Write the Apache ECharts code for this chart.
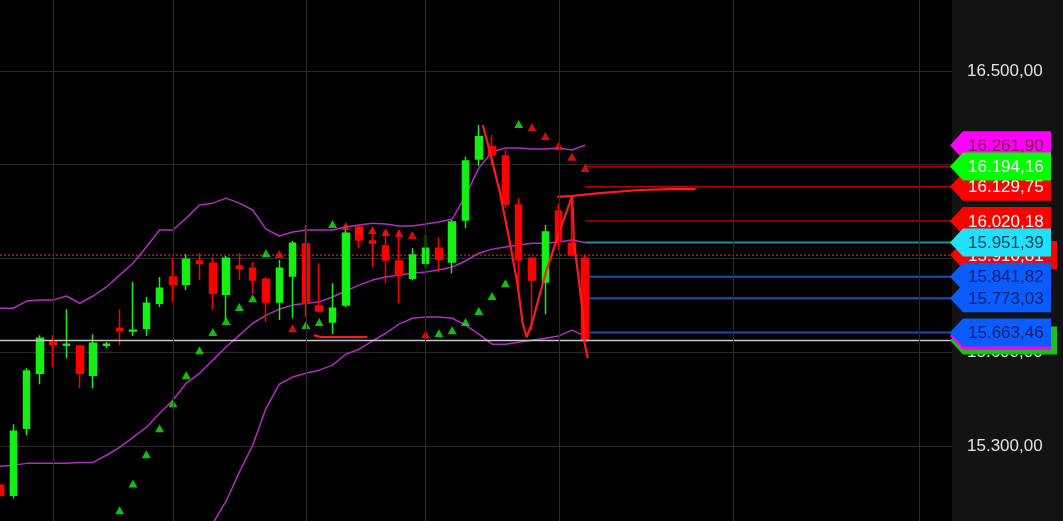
<!DOCTYPE html>
<html><head><meta charset="utf-8">
<script src="https://cdn.jsdelivr.net/npm/echarts@6/dist/echarts.min.js"></script>
<style>html,body{margin:0;padding:0;background:#131313;overflow:hidden}#c{width:1063px;height:521px}</style>
</head><body><div id="c"></div>
<script>
// ---- data ----
// candles: [open, close, low, high]
const candles = [
 [15175,15143,15133,15185],[15143,15348,15133,15370],[15357,15540,15335,15549],[15533,15645,15498,15655],
 [15633,15626,15553,15655],[15623,15626,15581,15738],[15620,15533,15485,15623],[15527,15629,15485,15658],
 [15623,15626,15613,15633],[15677,15671,15623,15738],[15668,15671,15652,15825],[15677,15757,15652,15777],
 [15757,15805,15745,15841],[15841,15818,15761,15901],[15818,15898,15799,15914],[15892,15885,15831,15917],
 [15885,15789,15735,15905],[15786,15901,15703,15908],[15876,15869,15831,15917],[15869,15831,15789,15889],
 [15834,15761,15697,15841],[15761,15869,15703,15895],[15844,15949,15709,15956],[15946,15757,15713,16007],
 [15748,15732,15729,15885],[15697,15741,15658,15821],[15751,15981,15745,16007],[16001,15959,15933,16007],
 [15956,15949,15873,15997],[15940,15895,15821,15991],[15892,15847,15757,15991],[15837,15911,15831,15933],
 [15885,15933,15869,15975],[15933,15898,15857,15969],[15889,16017,15853,16023],[16023,16212,15997,16225],
 [16218,16289,16196,16327],[16257,16231,16199,16295],[16228,16074,16061,16247],[16071,15895,15799,16093],
 [15901,15831,15671,15905],[15825,15985,15722,16007],[16052,15956,15927,16077],[15949,15911,15908,16097],
 [15901,15638,15638,15914]
];
const bbUpper = [15741,15741,15764,15767,15767,15780,15757,15780,15809,15847,15885,15937,15991,15991,16029,16071,
 16077,16093,16077,16055,15994,15972,15985,15991,15991,15991,16001,16007,16013,16010,16004,16004,16010,16017,16026,
 16100,16189,16241,16253,16253,16250,16250,16253,16247,16262];
const bbMiddle = [15236,15239,15245,15245,15245,15245,15248,15248,15271,15296,15328,15360,15405,15447,15501,15533,
 15575,15617,15655,15693,15718,15738,15751,15757,15761,15777,15796,15815,15831,15841,15847,15853,15857,15863,15873,
 15892,15917,15930,15937,15943,15949,15949,15953,15959,15951];
const bbLower = [14731,14737,14726,14723,14723,14710,14739,14716,14733,14745,14771,14783,14819,14903,14973,14995,
 15053,15124,15217,15303,15421,15498,15521,15533,15543,15559,15594,15610,15636,15661,15690,15709,15713,15713,15709,
 15687,15658,15626,15626,15632,15639,15645,15652,15671,15652];
// parabolic SAR dots: [candle index, value]
const psarGreen = [[9,15095],[10,15181],[11,15274],[12,15357],[13,15437],[14,15527],[15,15607],[16,15665],[17,15700],
 [18,15745],[19,15773],[20,15917],[23,15687],[24,15697],[25,16010],[33,15661],[34,15671],[35,15697],[36,15732],
 [37,15780],[38,15821],[39,16330]];
const psarRed = [[21,15914],[22,15677],[26,16004],[27,15991],[28,15991],[29,15985],[30,15981],[31,15975],[32,15658],
 [40,16320],[41,16292],[42,16260],[43,16225],[44,16189]];
// zigzag and swing lines: [position in candles, value]
const zigzag = [[36.3,16327],[36.8,16247],[37.6,16109],[38.2,15981],[38.9,15821],[39.3,15693],[39.6,15649],
 [40.0,15693],[40.4,15757],[41.1,15863],[42.1,15991],[43.0,16097],[43.08,16055],[43.15,15949],[43.4,15872],
 [43.8,15735],[43.95,15629],[44.2,15581]];
const swingHigh = [[41.9,16097],[43.1,16100],[45.1,16109],[48.1,16119],[50.4,16122],[52.3,16122]];
const swingLow = [[23.6,15655],[24.1,15649],[27.6,15649]];
// horizontal levels
const resistLevels = [16194.16, 16129.75, 16020.18];
const pivotLevels = [15951.39];
const supportLevels = [15841.82, 15773.03, 15663.46];
const prevClose = 15910.81;
const lastClose = candles[candles.length - 1][1];
// session separators (candle positions)
const sessionBreaks = [4, 13, 23, 32, 42.07, 55.1, 69.1];
// right-hand price tags (drawn in this order)
const tagValues = [16261.90, 16129.75, 16194.16, 16020.18, 15910.81, 15951.39, 15841.82, 15773.03, lastClose, 15652.00, 15663.46];
const tagKinds  = ['mag', 'red', 'green', 'red', 'redWide', 'cyan', 'blue', 'blue', 'greenWide', 'mag', 'blue'];

// ---- styles ----
const X_MAX = 71.58;
const TAG_STYLE = {
  mag:       {fill:'#ff00ff', text:'#72203e', w:99},
  red:       {fill:'#ff0000', text:'#ffffff', w:99},
  redWide:   {fill:'#ff0000', text:'#ffffff', w:105},
  green:     {fill:'#00ff00', text:'#ffffff', w:99},
  greenWide: {fill:'#1cc21c', text:'#ffffff', w:105},
  cyan:      {fill:'#20e0fa', text:'#0b4460', w:99},
  blue:      {fill:'#0a5cff', text:'#0a2470', w:99}
};
const FONT = '"Liberation Sans", Arial, sans-serif';
function fmt(v){
  const s = Number(v).toFixed(2).split('.');
  return s[0].replace(/\B(?=(\d{3})+(?!\d))/g, '.') + ',' + s[1];
}
const lvl = (v) => [[44, v], [X_MAX, v]];
const full = (v) => [[0, v], [X_MAX, v]];
const idx = (arr) => arr.map((v, i) => [i, v]);

const series = [];
series.push({type:'line', data:[], silent:true, z:1,
  markLine:{silent:true, symbol:['none','none'], label:{show:false}, animation:false,
    lineStyle:{color:'#2b2b2b', width:1, type:'solid'}, data: sessionBreaks.map(x => ({xAxis:x}))}});
[bbUpper, bbMiddle, bbLower].forEach(a => series.push({type:'line', data: idx(a), symbol:'none', z:2,
  lineStyle:{color:'#b32cc4', width:1.5}}));
resistLevels.forEach(v => series.push({type:'line', data: lvl(v), symbol:'none', z:2, lineStyle:{color:'#b80000', width:1.5}}));
pivotLevels.forEach(v => series.push({type:'line', data: lvl(v), symbol:'none', z:2, lineStyle:{color:'#1f8e9c', width:2}}));
supportLevels.forEach(v => series.push({type:'line', data: lvl(v), symbol:'none', z:2, lineStyle:{color:'#1d4fae', width:2}}));
series.push({type:'line', data: full(prevClose), symbol:'none', z:2, lineStyle:{color:'#ff2a2a', width:1, type:[2,2]}});
series.push({type:'candlestick', data: candles.map((c, i) => [i].concat(c)), barWidth:7, z:3,
  itemStyle:{color:'#14f014', color0:'#ff0000', borderColor:'#14f014', borderColor0:'#ff0000', borderWidth:1.5}});
series.push({type:'line', data: full(lastClose), symbol:'none', z:4, lineStyle:{color:'#c8c8c8', width:1.5}});
series.push({type:'scatter', data: psarGreen, symbol:'triangle', symbolSize:[9,8], z:4, itemStyle:{color:'#18ee18'}});
series.push({type:'scatter', data: psarRed, symbol:'triangle', symbolSize:[9,8], z:4, itemStyle:{color:'#ff1414'}});
[zigzag, swingHigh, swingLow].forEach(a => series.push({type:'line', data:a, symbol:'none', z:4,
  lineStyle:{color:'#ff1a1a', width:2.2}}));
series.push({type:'custom', z:10, clip:false, data: tagValues.map(v => [X_MAX, v]),
  renderItem: function(params, api){
    const v = api.value(1);
    const p = api.coord([X_MAX, v]);
    const st = TAG_STYLE[tagKinds[params.dataIndex]];
    const x0 = p[0], y = p[1], h = 14;
    return {type:'group', children:[
      {type:'polygon', shape:{points:[[x0-2,y],[x0+11,y-h],[x0+st.w,y-h],[x0+st.w,y+h],[x0+11,y+h]]},
       style:{fill:st.fill}},
      {type:'text', x:x0+16, y:y+1, style:{text:fmt(v), fill:st.text, font:'17px ' + FONT,
        align:'left', verticalAlign:'middle', textAlign:'left', textVerticalAlign:'middle'}}
    ]};
  }});

const chart = echarts.init(document.getElementById('c'), null, {renderer:'canvas'});
chart.setOption({
  animation:false,
  backgroundColor:'#131313',
  grid:{left:0, right:111, top:-23, bottom:-19, show:true, backgroundColor:'#000', borderWidth:0,
    containLabel:false, outerBoundsMode:'none'},
  xAxis:{type:'value', min:0, max:X_MAX, show:false, splitLine:{show:false}},
  yAxis:{type:'value', position:'right', min:15000, max:16800, interval:300,
    axisLine:{show:false}, axisTick:{show:false},
    splitLine:{show:true, lineStyle:{color:'#2a2a2a', width:1}},
    axisLabel:{color:'#e2e2e2', fontSize:17, fontFamily:FONT, margin:15, formatter: v => fmt(v)}},
  series: series
});
</script></body></html>
